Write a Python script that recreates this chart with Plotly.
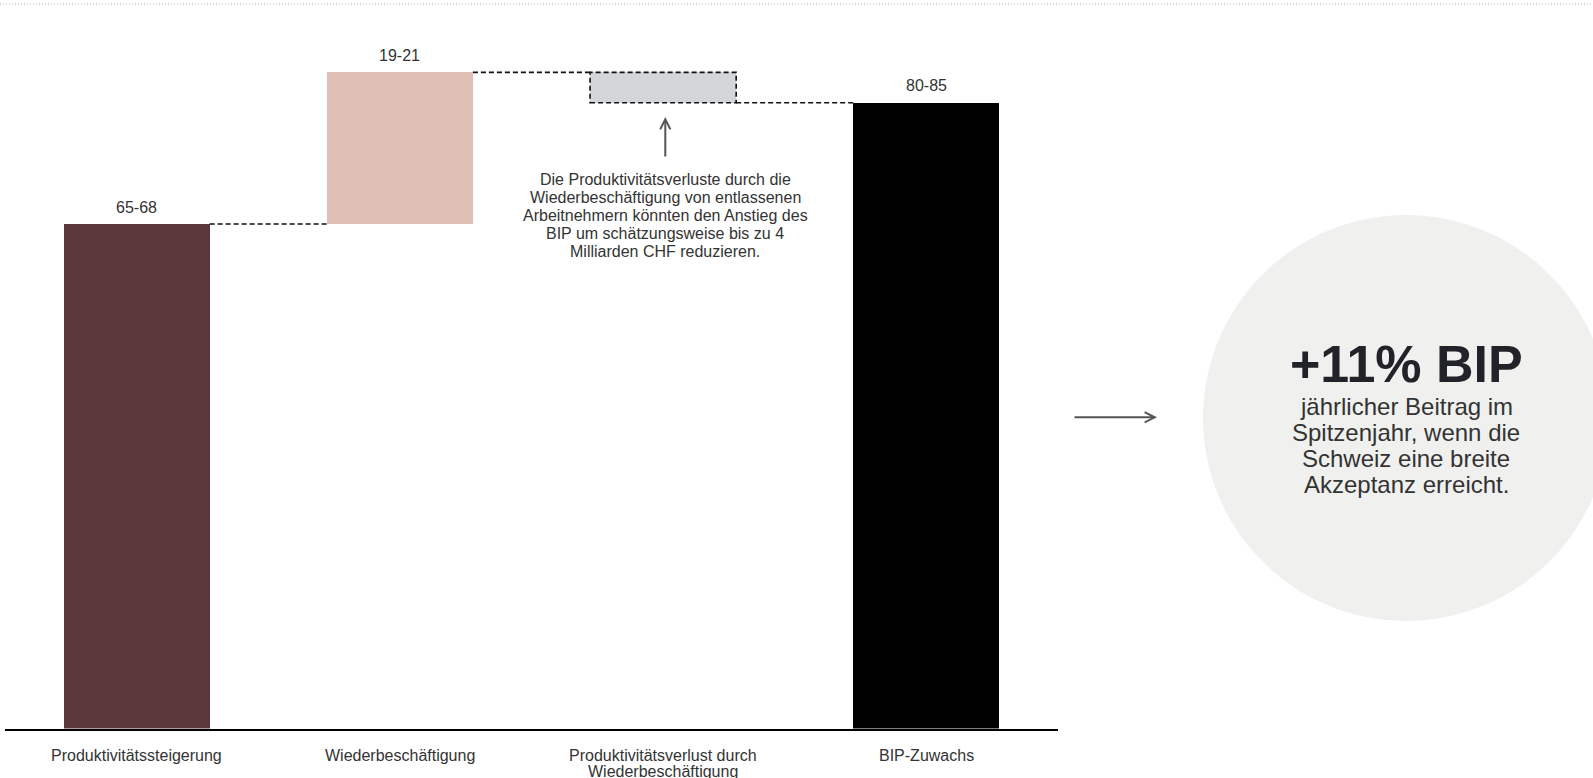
import plotly.graph_objects as go

# ---------------- data ----------------
categories = ["Produktivitätssteigerung", "Wiederbeschäftigung",
              "Produktivitätsverlust durch Wiederbeschäftigung", "BIP-Zuwachs"]
category_lines = [["Produktivitätssteigerung"], ["Wiederbeschäftigung"],
                  ["Produktivitätsverlust durch", "Wiederbeschäftigung"], ["BIP-Zuwachs"]]
values = [66.5, 20.0, -4.0, 82.5]          # Mrd. CHF (midpoints of ranges)
measures = ["absolute", "relative", "relative", "total"]
value_labels = ["65-68", "19-21", "", "80-85"]
bar_colors = ["#5b363a", "#e0c0b4", "#d5d6d8", "#000000"]

note_lines = ["Die Produktivitätsverluste durch die",
              "Wiederbeschäftigung von entlassenen",
              "Arbeitnehmern könnten den Anstieg des",
              "BIP um schätzungsweise bis zu 4",
              "Milliarden CHF reduzieren."]
headline = "+11% BIP"
headline_sub = ["jährlicher Beitrag im", "Spitzenjahr, wenn die",
                "Schweiz eine breite", "Akzeptanz erreicht."]

# ---------------- layout constants ----------------
W, H = 1593, 778
FONT = "Liberation Sans, Arial, Helvetica, sans-serif"
BAR_W = 0.555
X_LEFT, X_RIGHT = 5, 1058           # px
Y_BOTTOM, Y_TOP = 728.5, 20         # px
Y_MAX = 93.4


def px_x(p):
    return p / W


def px_y(p):
    return 1 - p / H


# waterfall geometry
bases, heights, running_totals = [], [], []
running = 0.0
for v, m in zip(values, measures):
    if m == "absolute":
        b, h = 0.0, v
        running = v
    elif m == "relative":
        if v >= 0:
            b, h = running, v
        else:
            b, h = running + v, -v
        running += v
    else:
        b, h = 0.0, running
    bases.append(b)
    heights.append(h)
    running_totals.append(running)

fig = go.Figure()
fig.add_trace(go.Bar(
    x=list(range(len(categories))), y=heights, base=bases,
    marker=dict(color=bar_colors, line=dict(width=0)),
    width=BAR_W, hovertext=categories, showlegend=False,
))

DASH = dict(color="#111111", width=1.6, dash="5px,3px")
shapes = []
# connectors
for i in range(len(values) - 1):
    shapes.append(dict(type="line", xref="x", yref="y",
                       x0=i + BAR_W / 2, x1=i + 1 - BAR_W / 2,
                       y0=running_totals[i], y1=running_totals[i],
                       line=DASH))
# dashed outline for negative step
for i, (v, m) in enumerate(zip(values, measures)):
    if m == "relative" and v < 0:
        shapes.append(dict(type="rect", xref="x", yref="y",
                           x0=i - BAR_W / 2, x1=i + BAR_W / 2,
                           y0=bases[i], y1=bases[i] + heights[i],
                           line=DASH, fillcolor="rgba(0,0,0,0)"))
# top dotted rule
shapes.append(dict(type="line", xref="paper", yref="paper",
                   x0=0, x1=1, y0=px_y(4), y1=px_y(4),
                   line=dict(color="#b0b0b0", width=1, dash="1px,2px")))
# circle
cx, cy, r = 1406, 418, 203
shapes.append(dict(type="circle", xref="paper", yref="paper",
                   x0=px_x(cx - r), x1=px_x(cx + r),
                   y0=px_y(cy + r), y1=px_y(cy - r),
                   fillcolor="#f0f0ef", line=dict(width=0), layer="below"))

annotations = []
# value labels
for i, lab in enumerate(value_labels):
    if lab:
        annotations.append(dict(x=i, y=bases[i] + heights[i], xref="x", yref="y",
                                text=lab, showarrow=False, xanchor="center", yanchor="middle",
                                yshift=17, font=dict(family=FONT, size=16, color="#333333")))
# category labels
for i, lines in enumerate(category_lines):
    for j, ln in enumerate(lines):
        annotations.append(dict(x=i, y=px_y(755 + j * 16), xref="x", yref="paper",
                                text=ln, showarrow=False, xanchor="center", yanchor="middle",
                                font=dict(family=FONT, size=16, color="#333333")))
# note text
for j, ln in enumerate(note_lines):
    annotations.append(dict(x=px_x(665), y=px_y(179 + j * 18), xref="paper", yref="paper",
                            text=ln, showarrow=False, xanchor="center", yanchor="middle",
                            font=dict(family=FONT, size=16, color="#333333")))
# up arrow
annotations.append(dict(x=px_x(665.3), y=px_y(117), xref="paper", yref="paper",
                        ax=0, ay=41, text="", showarrow=True,
                        arrowhead=5, arrowwidth=2, arrowsize=1, arrowcolor="#555555"))
# right arrow
annotations.append(dict(x=px_x(1157), y=px_y(417.3), xref="paper", yref="paper",
                        ax=-84, ay=0, text="", showarrow=True,
                        arrowhead=5, arrowwidth=2, arrowsize=1, arrowcolor="#555555"))
# headline in circle
annotations.append(dict(x=px_x(1406), y=px_y(364), xref="paper", yref="paper",
                        text="<b>" + headline + "</b>", showarrow=False,
                        xanchor="center", yanchor="middle",
                        font=dict(family=FONT, size=52, color="#222328")))
for j, ln in enumerate(headline_sub):
    annotations.append(dict(x=px_x(1406), y=px_y(406.5 + j * 26), xref="paper", yref="paper",
                            text=ln, showarrow=False, xanchor="center", yanchor="middle",
                            font=dict(family=FONT, size=24, color="#333333")))

fig.update_layout(
    width=W, height=H,
    margin=dict(l=0, r=0, t=0, b=0),
    paper_bgcolor="white", plot_bgcolor="rgba(0,0,0,0)",
    shapes=shapes, annotations=annotations,
    font=dict(family=FONT, size=16, color="#333333"),
    xaxis=dict(domain=[px_x(X_LEFT), px_x(X_RIGHT)], range=[-0.5, len(categories) - 0.5],
               showline=True, linecolor="#000000", linewidth=2,
               showticklabels=False, ticks="", showgrid=False, zeroline=False,
               fixedrange=True),
    yaxis=dict(domain=[px_y(Y_BOTTOM), px_y(Y_TOP)], range=[0, Y_MAX],
               visible=False, showgrid=False, zeroline=False, fixedrange=True),
    bargap=0,
)

fig.write_html("out.html", config={"displayModeBar": False})
